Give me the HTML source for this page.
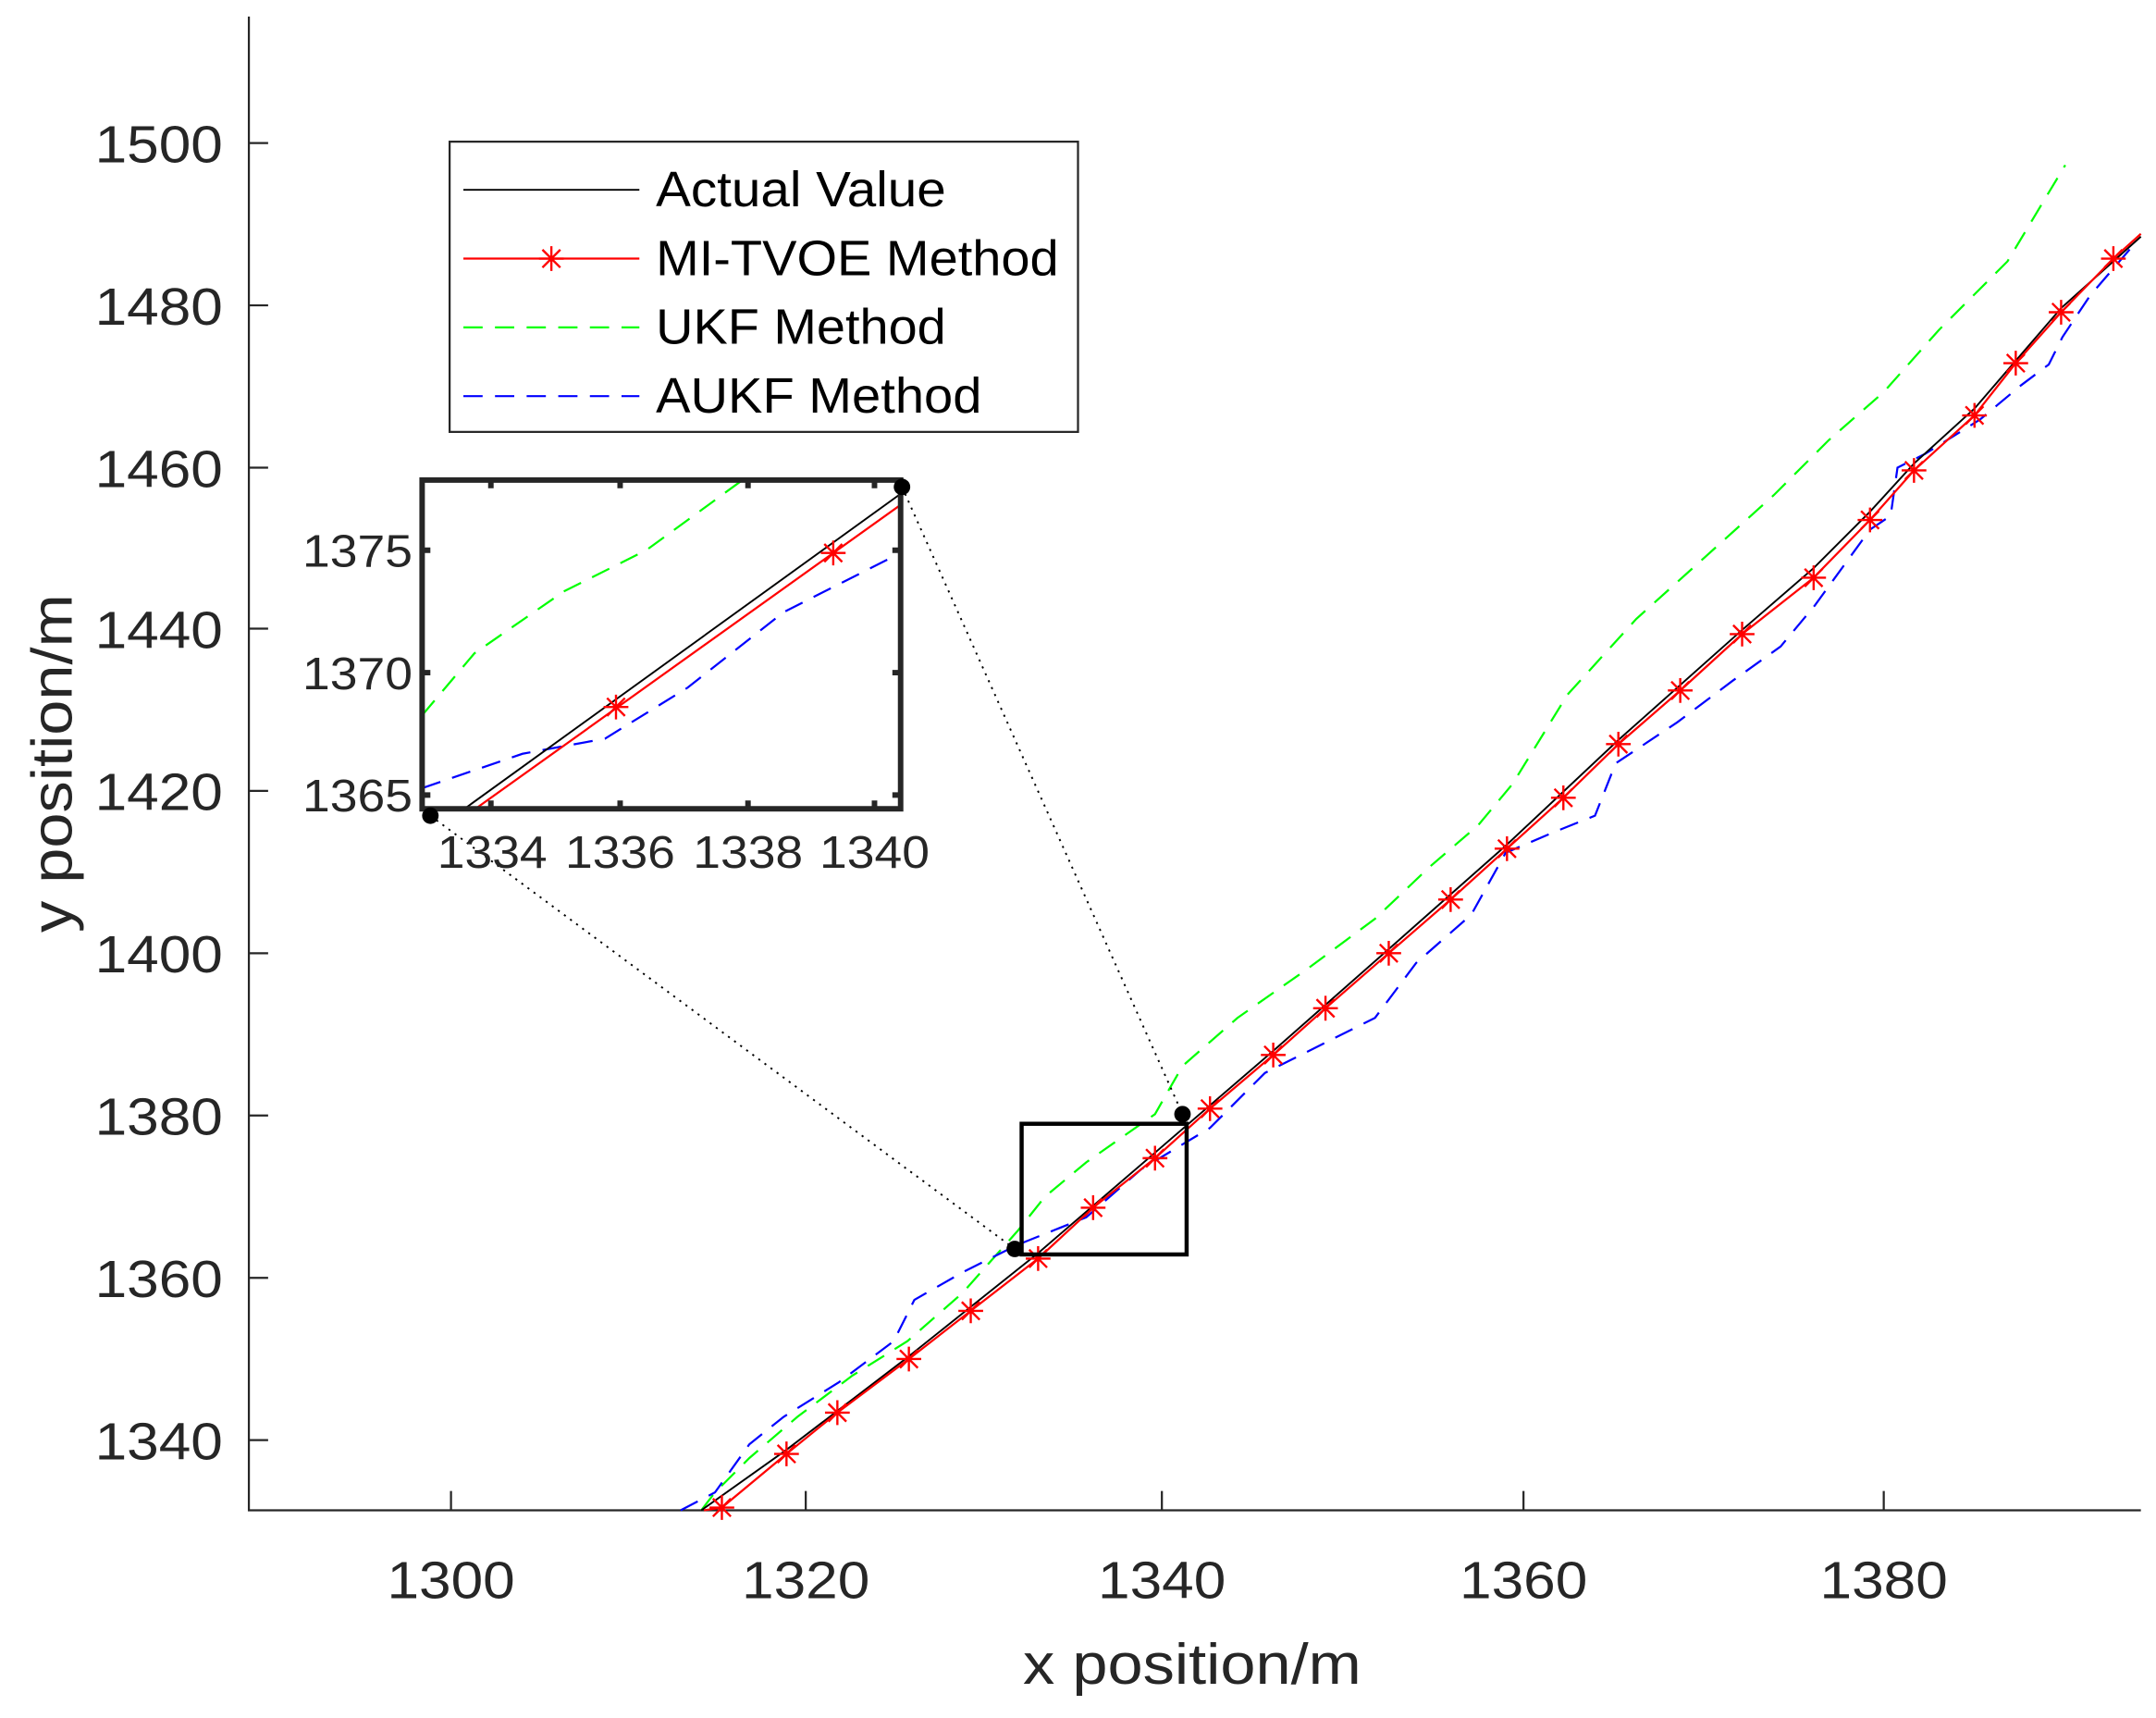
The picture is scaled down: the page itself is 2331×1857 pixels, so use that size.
<!DOCTYPE html>
<html><head><style>html,body{margin:0;padding:0;background:#fff}svg{display:block}</style></head><body>
<svg width="2331" height="1857" viewBox="0 0 1568 1249" preserveAspectRatio="none" xmlns="http://www.w3.org/2000/svg" font-family="Liberation Sans, sans-serif" fill="none">
<defs>
<g id="st"><path d="M-9 0H9M0-9V9M-6.5-6.5L6.5 6.5M-6.5 6.5L6.5-6.5" stroke="#f00" stroke-width="1.6"/></g>
</defs>
<path d="M181 12V1098H1557" stroke="#262626" stroke-width="1.5"/>
<g stroke="#262626" stroke-width="1.5">
<path d="M328 1098v-14M586 1098v-14M845 1098v-14M1108 1098v-14M1370 1098v-14"/>
<path d="M181 1047h14M181 929h14M181 811h14M181 693h14M181 575h14M181 457h14M181 340h14M181 222h14M181 104h14"/>
</g>
<g fill="#262626" font-size="38" text-anchor="end" lengthAdjust="spacingAndGlyphs">
<text x="162" y="1061" textLength="93" lengthAdjust="spacingAndGlyphs">1340</text><text x="162" y="943" textLength="93" lengthAdjust="spacingAndGlyphs">1360</text><text x="162" y="825" textLength="93" lengthAdjust="spacingAndGlyphs">1380</text><text x="162" y="707" textLength="93" lengthAdjust="spacingAndGlyphs">1400</text><text x="162" y="589" textLength="93" lengthAdjust="spacingAndGlyphs">1420</text><text x="162" y="471" textLength="93" lengthAdjust="spacingAndGlyphs">1440</text><text x="162" y="354" textLength="93" lengthAdjust="spacingAndGlyphs">1460</text><text x="162" y="236" textLength="93" lengthAdjust="spacingAndGlyphs">1480</text><text x="162" y="118" textLength="93" lengthAdjust="spacingAndGlyphs">1500</text>
</g>
<g fill="#262626" font-size="38" text-anchor="middle">
<text x="328" y="1162" textLength="93" lengthAdjust="spacingAndGlyphs">1300</text><text x="586" y="1162" textLength="93" lengthAdjust="spacingAndGlyphs">1320</text><text x="845" y="1162" textLength="93" lengthAdjust="spacingAndGlyphs">1340</text><text x="1108" y="1162" textLength="93" lengthAdjust="spacingAndGlyphs">1360</text><text x="1370" y="1162" textLength="93" lengthAdjust="spacingAndGlyphs">1380</text>
<text x="867" y="1224" font-size="42" textLength="246" lengthAdjust="spacingAndGlyphs">x position/m</text>
<text transform="translate(52 555) rotate(-90)" font-size="42" textLength="246" lengthAdjust="spacingAndGlyphs">y position/m</text>
</g>
<polyline stroke="#0f0" stroke-width="1.5" stroke-dasharray="14,9" points="510,1098 520,1085 545,1060 580,1030 620,1000 660,975 700,940 740,895 760,870 790,845 840,810 860,775 900,740 950,705 1000,668 1040,630 1075,600 1100,570 1140,505 1190,450 1240,405 1290,360 1330,320 1370,285 1410,240 1460,190 1502,120"/>
<polyline stroke="#00f" stroke-width="1.5" stroke-dasharray="14,9" points="495,1098 520,1085 545,1050 570,1030 610,1005 650,975 665,945 700,925 740,905 790,885 830,850 880,820 920,780 970,755 1000,740 1030,700 1070,665 1095,620 1130,605 1160,593 1175,555 1220,525 1260,495 1295,470 1320,440 1360,385 1375,375 1380,340 1400,330 1440,305 1470,280 1490,265 1500,245 1520,215 1550,180"/>
<polyline stroke="#000" stroke-width="1.3" points="510,1098 572,1054 661,986 755,911 840,838 926,764 1010,690 1096,614 1177,538 1267,458 1319,413 1360,372 1392,337 1436,297 1499,224 1557,172"/>
<polyline stroke="#f00" stroke-width="1.5" points="512,1098 525,1096 572,1057 609,1027 661,988 706,953 755,915 795,878 840,842 880,806 926,767 964,733 1010,693 1055,654 1096,617 1137,580 1177,541 1222,502 1267,461 1319,420 1360,378 1392,342 1436,302 1466,264 1499,227 1537,188 1557,170"/>
<g>
<use href="#st" x="525" y="1096"/><use href="#st" x="572" y="1057"/><use href="#st" x="609" y="1027"/><use href="#st" x="661" y="988"/><use href="#st" x="706" y="953"/><use href="#st" x="755" y="915"/><use href="#st" x="795" y="878"/><use href="#st" x="840" y="842"/><use href="#st" x="880" y="806"/><use href="#st" x="926" y="767"/><use href="#st" x="964" y="733"/><use href="#st" x="1010" y="693"/><use href="#st" x="1055" y="654"/><use href="#st" x="1096" y="617"/><use href="#st" x="1137" y="580"/><use href="#st" x="1177" y="541"/><use href="#st" x="1222" y="502"/><use href="#st" x="1267" y="461"/><use href="#st" x="1319" y="420"/><use href="#st" x="1360" y="378"/><use href="#st" x="1392" y="342"/><use href="#st" x="1436" y="302"/><use href="#st" x="1466" y="264"/><use href="#st" x="1499" y="227"/><use href="#st" x="1537" y="188"/>
</g>
<rect x="743" y="817" width="120" height="95" stroke="#000" stroke-width="3"/>
<path d="M313 593L738 908M656 354L860 810" stroke="#000" stroke-width="1.3" stroke-dasharray="1.5,4"/>
<circle cx="738" cy="908" r="6" fill="#000"/><circle cx="860" cy="810" r="6" fill="#000"/>
<rect x="307" y="349" width="348" height="239" fill="#fff"/>
<svg x="307" y="349" width="348" height="239" viewBox="307 349 348 239" overflow="hidden">
<polyline stroke="#0f0" stroke-width="1.5" stroke-dasharray="14,9" points="307,520 345,475 410,430 470,400 540,349"/>
<polyline stroke="#00f" stroke-width="1.5" stroke-dasharray="14,9" points="307,573 380,548 440,537 500,500 570,445 655,402"/>
<polyline stroke="#000" stroke-width="1.3" points="335,590 655,359"/>
<polyline stroke="#f00" stroke-width="1.5" points="343,590 655,367"/>
<use href="#st" x="448" y="514"/><use href="#st" x="606" y="402"/>
</svg>
<rect x="307" y="349" width="348" height="239" stroke="#262626" stroke-width="4"/>
<g stroke="#262626" stroke-width="4">
<path d="M357 588v-6M451 588v-6M544 588v-6M636 588v-6M357 349v6M451 349v6M544 349v6M636 349v6"/>
<path d="M307 400h6M307 489h6M307 578h6M655 400h-6M655 489h-6M655 578h-6"/>
</g>
<g fill="#262626" font-size="33" text-anchor="end">
<text x="300" y="412" textLength="80" lengthAdjust="spacingAndGlyphs">1375</text><text x="300" y="501" textLength="80" lengthAdjust="spacingAndGlyphs">1370</text><text x="300" y="590" textLength="80" lengthAdjust="spacingAndGlyphs">1365</text>
</g>
<g fill="#262626" font-size="33" text-anchor="middle">
<text x="358" y="631" textLength="80" lengthAdjust="spacingAndGlyphs">1334</text><text x="451" y="631" textLength="80" lengthAdjust="spacingAndGlyphs">1336</text><text x="544" y="631" textLength="80" lengthAdjust="spacingAndGlyphs">1338</text><text x="636" y="631" textLength="80" lengthAdjust="spacingAndGlyphs">1340</text>
</g>
<circle cx="313" cy="593" r="6" fill="#000"/><circle cx="656" cy="354" r="6" fill="#000"/>
<rect x="327" y="103" width="457" height="211" fill="#fff" stroke="#262626" stroke-width="1.5"/>
<path d="M337 138H465" stroke="#000" stroke-width="1.3"/>
<path d="M337 188H465" stroke="#f00" stroke-width="1.5"/><use href="#st" x="401" y="188"/>
<path d="M337 238H465" stroke="#0f0" stroke-width="1.5" stroke-dasharray="14,9"/>
<path d="M337 288H465" stroke="#00f" stroke-width="1.5" stroke-dasharray="14,9"/>
<g fill="#000" font-size="36">
<text x="477" y="150" textLength="211" lengthAdjust="spacingAndGlyphs">Actual Value</text><text x="477" y="200" textLength="293" lengthAdjust="spacingAndGlyphs">MI-TVOE Method</text><text x="477" y="250" textLength="211" lengthAdjust="spacingAndGlyphs">UKF Method</text><text x="477" y="300" textLength="237" lengthAdjust="spacingAndGlyphs">AUKF Method</text>
</g>
</svg>
</body></html>
